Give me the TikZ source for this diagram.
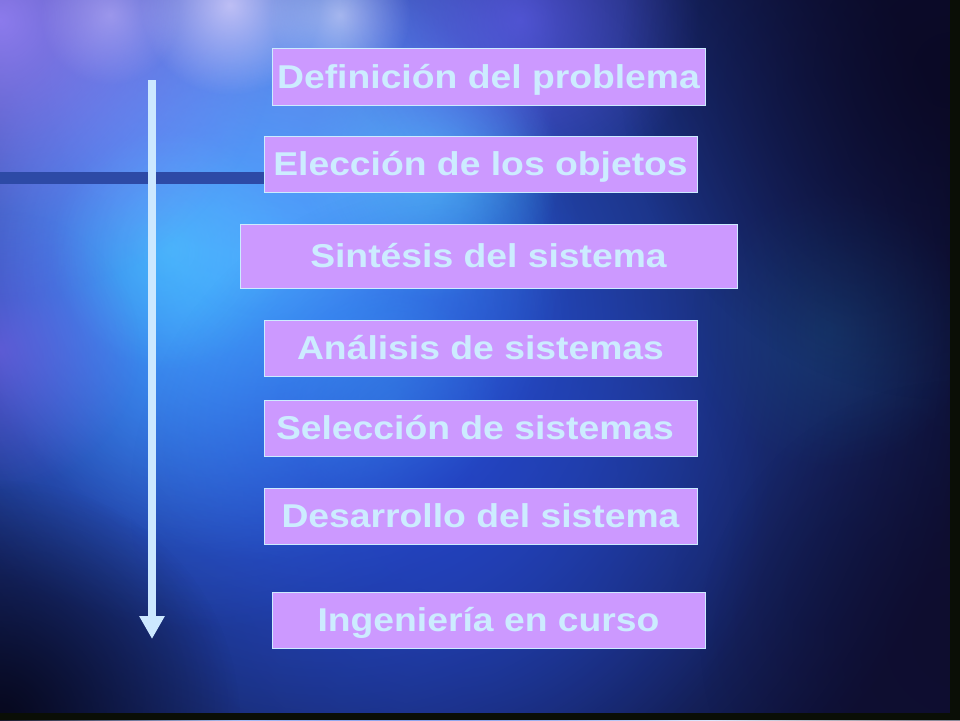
\documentclass[tikz,border=0pt]{standalone}
\usepackage{fontspec}
\setmainfont{Liberation Sans}
\usetikzlibrary{arrows.meta,fadings}
\definecolor{boxfill}{RGB}{204,153,255}
\definecolor{boxline}{RGB}{204,236,255}
\definecolor{boxtext}{RGB}{204,236,255}
\definecolor{arrowcol}{RGB}{204,232,255}
\definecolor{barcol}{RGB}{45,74,166}
\definecolor{bgbase}{RGB}{14,16,52}
\definecolor{edgecol}{RGB}{10,14,6}
\tikzfading[name=softblob, inner color=transparent!0, outer color=transparent!100]
\tikzset{
  stepbox/.style={draw=boxline, line width=1pt, fill=boxfill, text=boxtext,
    inner sep=0pt, font=\fontsize{33}{40}\selectfont\bfseries,
    text height=23.6pt, text depth=0pt, align=center},
  blob/.style={path fading=softblob},
  flowarrow/.style={draw=arrowcol, line width=8pt,
    -{Triangle[width=24pt,length=23pt]}},
  hbar/.style={draw=barcol, line width=12pt}
}
\newcommand{\stretchtxt}[1]{\scalebox{1.13}[1]{#1}}
\begin{document}
\begin{tikzpicture}[x=1pt,y=-1pt]
\useasboundingbox (0,0) rectangle (960,720);
% background
\fill[bgbase] (0,0) rectangle (960,720);
\fill[color={rgb,255:red,45;green,95;blue,235}, blob] (330,330) circle (650pt);
\fill[color={rgb,255:red,60;green,130;blue,255}, blob, opacity=.8] (200,250) circle (380pt);
\fill[color={rgb,255:red,70;green,175;blue,255}, blob, opacity=.9] (260,260) circle (300pt);
\fill[color={rgb,255:red,80;green,210;blue,255}, blob, opacity=.6] (430,170) circle (130pt);
\fill[color={rgb,255:red,80;green,210;blue,255}, blob, opacity=.5] (170,250) circle (120pt);
\fill[color={rgb,255:red,70;green,200;blue,255}, blob, opacity=.4] (390,400) circle (110pt);
\fill[color={rgb,255:red,120;green,160;blue,255}, blob, opacity=.6] (300,60) circle (260pt);
\fill[color={rgb,255:red,160;green,135;blue,255}, blob, opacity=.85] (0,20) circle (280pt);
\fill[color={rgb,255:red,225;green,215;blue,255}, blob, opacity=.75] (230,5) circle (90pt);
\fill[color={rgb,255:red,225;green,225;blue,255}, blob, opacity=.6] (340,15) circle (70pt);
\fill[color={rgb,255:red,205;green,190;blue,255}, blob, opacity=.5] (110,15) circle (70pt);
\fill[color={rgb,255:red,110;green,100;blue,255}, blob, opacity=.6] (520,20) circle (180pt);
\fill[color={rgb,255:red,135;green,95;blue,235}, blob, opacity=.55] (0,350) circle (140pt);
\fill[color={rgb,255:red,35;green,65;blue,200}, blob, opacity=.7] (450,500) circle (320pt);
\fill[color={rgb,255:red,25;green,75;blue,125}, blob, opacity=.5] (830,330) circle (140pt);
\fill[color={rgb,255:red,5;green,5;blue,22}, blob, opacity=.9] (0,720) circle (240pt);
\fill[color={rgb,255:red,10;green,8;blue,35}, blob, opacity=.85] (950,70) circle (330pt);
\fill[color={rgb,255:red,14;green,12;blue,45}, blob, opacity=.7] (960,640) circle (260pt);
\fill[edgecol] (950,0) rectangle (960,720);
\fill[edgecol] (0,713) rectangle (960,720);
% boxes
\node[stepbox, minimum width=433pt, minimum height=57pt] (p1) at (488.5,76.5) {\stretchtxt{Definición del problema}};
\node[stepbox, minimum width=433pt, minimum height=56pt] (p2) at (480.5,164) {\stretchtxt{Elección de los objetos}};
\node[stepbox, minimum width=497pt, minimum height=64pt] (p3) at (488.5,256) {\stretchtxt{Sintésis del sistema}};
\node[stepbox, minimum width=433pt, minimum height=56pt] (p4) at (480.5,348) {\stretchtxt{Análisis de sistemas}};
\node[stepbox, minimum width=433pt, minimum height=56pt] (p5) at (480.5,428) {\stretchtxt{Selección de sistemas}\hspace*{11pt}};
\node[stepbox, minimum width=433pt, minimum height=56pt] (p6) at (480.5,516) {\stretchtxt{Desarrollo del sistema}};
\node[stepbox, minimum width=433pt, minimum height=56pt] (p7) at (488.5,620) {\stretchtxt{Ingeniería en curso}};
% bar and arrow
\coordinate (barstart) at (0,178);
\coordinate (arrowtop) at (152,80);
\coordinate (arrowtip) at (152,639);
\draw[hbar] (barstart) -- (barstart -| p2.west);
\draw[flowarrow] (arrowtop) -- (arrowtip);
\end{tikzpicture}
\end{document}
